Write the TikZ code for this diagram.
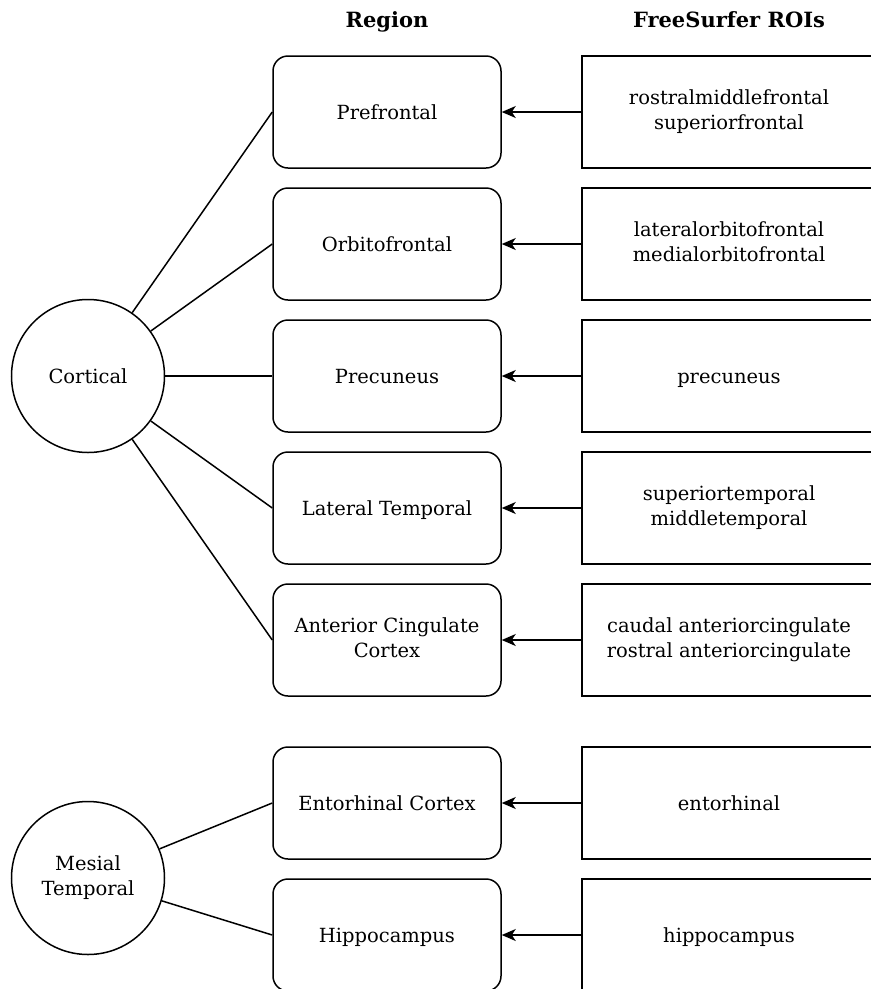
\documentclass[tikz,border=0pt]{standalone}
\usepackage{fontspec}
\setmainfont{DejaVu Serif}
\usetikzlibrary{shapes,arrows.meta}

\newcommand\nodestrut{\rule[-5pt]{0pt}{24pt}}

\tikzstyle{every picture}+=[x=1pt,y=-1pt]
\tikzstyle{every node}=[execute at begin node=\nodestrut,execute at end node=\nodestrut]
\tikzstyle{regbox}=[draw,rounded corners=15pt,minimum width=228pt,minimum height=112pt,align=center]
\tikzstyle{roibox}=[draw,minimum width=294pt,minimum height=112pt,align=center]
\tikzstyle{group}=[draw,circle,minimum size=153pt,inner sep=0pt,align=center]
\tikzstyle{feed}=[-{Stealth[length=14pt,width=12pt,inset=4pt]}]

\begin{document}
\begin{tikzpicture}[line width=1.5pt,font=\fontsize{19.5}{25}\selectfont]
\useasboundingbox (0,0) rectangle (871,989);
\clip (0,0) rectangle (871,989);

% column titles
\path (387,20) node[font=\fontsize{21}{25}\selectfont\bfseries] (tregion) {Region};
\path (729,20) node[font=\fontsize{21}{25}\selectfont\bfseries] (troi) {FreeSurfer ROIs};

% groups
\path (88,376) node[group] (cortical) {Cortical};
\path (88,878) node[group] (mesial) {Mesial\\Temporal};

\begin{scope}
\path (387,112) node[regbox] (pref) {Prefrontal};
\path (387,244) node[regbox] (orbi) {Orbitofrontal};
\path (387,376) node[regbox] (prec) {Precuneus};
\path (387,508) node[regbox] (ltemp) {Lateral Temporal};
\path (387,640) node[regbox] (acc) {Anterior Cingulate\\Cortex};
\path (387,803) node[regbox] (ento) {Entorhinal Cortex};
\path (387,935) node[regbox] (hipp) {Hippocampus};
\end{scope}

\begin{scope}
\path (729,112) node[roibox] (rpref) {rostralmiddlefrontal\\superiorfrontal};
\path (729,244) node[roibox] (rorbi) {lateralorbitofrontal\\medialorbitofrontal};
\path (729,376) node[roibox] (rprec) {precuneus};
\path (729,508) node[roibox] (rltemp) {superiortemporal\\middletemporal};
\path (729,640) node[roibox] (racc) {caudal anteriorcingulate\\rostral anteriorcingulate};
\path (729,803) node[roibox] (rento) {entorhinal};
\path (729,935) node[roibox] (rhipp) {hippocampus};
\end{scope}

\foreach \r in {pref,orbi,prec,ltemp,acc}
  \draw (cortical) -- (\r.west);
\foreach \r in {ento,hipp}
  \draw (mesial) -- (\r.west);

\foreach \r in {pref,orbi,prec,ltemp,acc,ento,hipp}
  \draw[feed] (r\r.west) -- (\r.east);

\end{tikzpicture}
\end{document}
